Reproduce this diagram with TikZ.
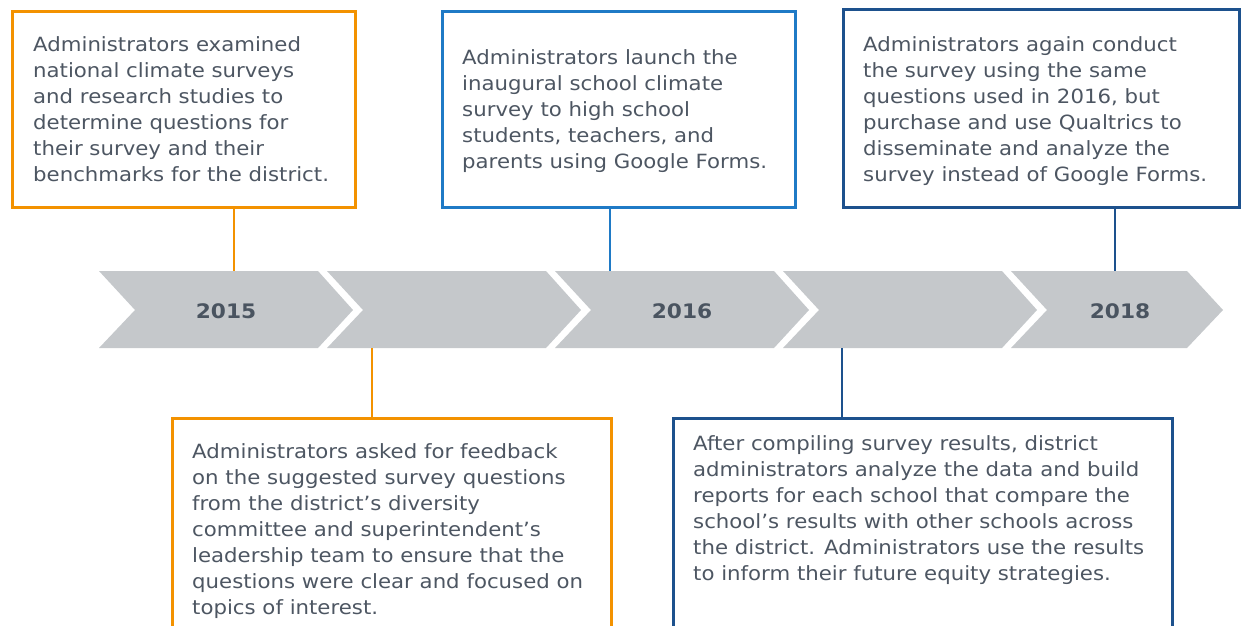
\documentclass[tikz,border=0pt]{standalone}
\usepackage{fontspec}
\setmainfont{DejaVu Sans}[FakeStretch=1.085]
\definecolor{tlorange}{HTML}{F39200}
\definecolor{tlblue}{HTML}{1F7AC6}
\definecolor{tlnavy}{HTML}{1D518D}
\definecolor{tlgray}{HTML}{C5C8CB}
\definecolor{tltext}{HTML}{4D5662}
\definecolor{tlyear}{HTML}{4A5460}
\begin{document}
\begin{tikzpicture}[x=1pt,y=-1pt,
  box/.style={draw=#1, line width=2.6pt, fill=none, inner sep=0pt, anchor=north west},
  link/.style={draw=#1, line width=2.5pt},
  desc/.style={anchor=north west, inner sep=0pt, align=left, text=tltext,
    font=\fontsize{19.6}{26}\selectfont},
  year/.style={text=tlyear, font=\fontsize{20}{24}\selectfont\bfseries, inner sep=0pt}]
\useasboundingbox (0,0) rectangle (1242,625);
\clip (0,0) rectangle (1242,625);

% timeline chevrons
\foreach \L in {99,327,555,783}{
  \fill[tlgray] (\L,271) -- (\L+219,271) -- (\L+254,310) -- (\L+219,348)
     -- (\L,348) -- (\L+36,310) -- cycle;
}
\fill[tlgray] (1011,271) -- (1187,271) -- (1223,310) -- (1187,348)
   -- (1011,348) -- (1047,310) -- cycle;

\node[year] (y15) at (226,311) {2015};
\node[year] (y16) at (682,311) {2016};
\node[year] (y18) at (1120,311) {2018};

% connector anchor points on the chevrons
\coordinate (c1) at (234,271);
\coordinate (c2) at (372,348);
\coordinate (c3) at (610,271);
\coordinate (c4) at (842,348);
\coordinate (c5) at (1115,271);

% boxes
\node[box=tlorange, minimum width=343, minimum height=196] (b1) at (11,10) {};
\node[box=tlblue, minimum width=353, minimum height=196] (b2) at (441,10) {};
\node[box=tlnavy, minimum width=396, minimum height=198] (b3) at (842,8) {};
\node[box=tlorange, minimum width=439, minimum height=240] (b4) at (171,417) {};
\node[box=tlnavy, minimum width=499, minimum height=240] (b5) at (672,417) {};

% connectors
\draw[link=tlorange] (b1.south -| c1) -- (c1);
\draw[link=tlblue] (b2.south -| c3) -- (c3);
\draw[link=tlnavy] (b3.south -| c5) -- (c5);
\draw[link=tlorange] (c2) -- (b4.north -| c2);
\draw[link=tlnavy] (c4) -- (b5.north -| c4);

% texts
\node[desc] (t1) at (33,32.8) {\strut Administrators examined\\
national climate surveys\\
and research studies to\\
determine questions for\\
their survey and their\\
benchmarks for the district.};

\node[desc] (t2) at (462,45.8) {\strut Administrators launch the\\
inaugural school climate\\
survey to high school\\
students, teachers, and\\
parents using Google Forms.};

\node[desc] (t3) at (863,32.8) {\strut Administrators again conduct\\
the survey using the same\\
questions used in 2016, but\\
purchase and use Qualtrics to\\
disseminate and analyze the\\
survey instead of Google Forms.};

\node[desc] (t4) at (192,439.8) {\strut Administrators asked for feedback\\
on the suggested survey questions\\
from the district’s diversity\\
committee and superintendent’s\\
leadership team to ensure that the\\
questions were clear and focused on\\
topics of interest.};

\node[desc] (t5) at (693,431.8) {\strut After compiling survey results, district\\
administrators analyze the data and build\\
reports for each school that compare the\\
school’s results with other schools across\\
the district. Administrators use the results\\
to inform their future equity strategies.};
\end{tikzpicture}
\end{document}
